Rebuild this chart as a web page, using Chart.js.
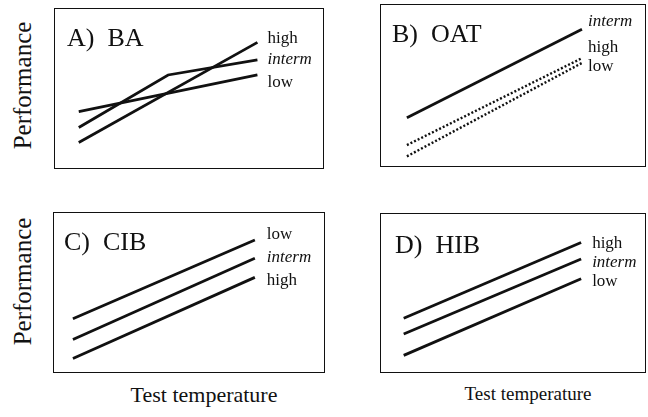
<!DOCTYPE html>
<html>
<head>
<meta charset="utf-8">
<script src="https://cdn.jsdelivr.net/npm/chart.js@4.4.0/dist/chart.umd.min.js"></script>
<style>
  body { margin: 0; background: #fff; }
  #page { position: relative; width: 648px; height: 417px; font-family: "Liberation Serif", "Times New Roman", serif; color: #111; }
  .box { position: absolute; border: 1px solid #111; }
  .box canvas { display: block; }
  .ylab { position: absolute; font-size: 25px; line-height: 29px; width: 130px; text-align: center; transform: rotate(-90deg); transform-origin: center; white-space: nowrap; }
  .xlab { position: absolute; white-space: nowrap; transform: translateX(-50%); }
</style>
</head>
<body>
<div id="page">
  <div class="box" style="left:54px;top:8px;"><canvas id="chartA" width="268" height="159"></canvas></div>
  <div class="box" style="left:380px;top:4px;"><canvas id="chartB" width="264" height="161"></canvas></div>
  <div class="box" style="left:53px;top:212px;"><canvas id="chartC" width="270" height="159"></canvas></div>
  <div class="box" style="left:380px;top:213px;"><canvas id="chartD" width="264" height="158"></canvas></div>
  <div class="ylab" style="left:-43px;top:71px;">Performance</div>
  <div class="ylab" style="left:-43px;top:267px;">Performance</div>
  <div class="xlab" style="left:204px;top:382px;font-size:22px;">Test temperature</div>
  <div class="xlab" style="left:528px;top:383px;font-size:19px;">Test temperature</div>
</div>
<script>
// test temperature (arbitrary units)
const temps = [0, 10];
const tempsBent = [0, 5, 10];

// A) BA
const baHigh = [1.6, 7.9];
const baInterm = [2.55, 5.85, 6.8];
const baLow = [3.55, 5.85];
// B) OAT
const oatInterm = [3.0, 8.5];
const oatHigh = [1.3, 6.7];
const oatLow = [0.6, 6.4];
// C) CIB
const cibLow = [3.35, 8.3];
const cibInterm = [2.05, 7.15];
const cibHigh = [0.85, 5.95];
// D) HIB
const hibHigh = [3.4, 8.2];
const hibInterm = [2.4, 7.15];
const hibLow = [1.05, 5.9];

const pts = (xs, ys) => xs.map((x, i) => ({ x: x, y: ys[i] }));

// draws panel title and the series names next to line ends
const panelText = {
  id: 'panelText',
  afterDraw(chart, args, opts) {
    const c = chart.ctx;
    const xs = chart.scales.x, ys = chart.scales.y;
    c.save();
    c.fillStyle = '#111';
    c.textBaseline = 'alphabetic';
    c.font = '26px "Liberation Serif", serif';
    c.fillText(opts.title, opts.titleX, opts.titleY);
    c.textBaseline = 'middle';
    chart.data.datasets.forEach(ds => {
      const last = ds.data[ds.data.length - 1];
      const px = xs.getPixelForValue(last.x) + opts.labelDx;
      const py = ys.getPixelForValue(last.y) + ds.labelDy;
      c.font = (ds.label === 'interm' ? 'italic ' : '') + '17px "Liberation Serif", serif';
      c.fillText(ds.label, px, py);
    });
    c.restore();
  }
};

function line(label, xs, ys, dy, dotted) {
  return {
    label: label,
    data: pts(xs, ys),
    borderColor: '#111',
    borderWidth: dotted ? 2.4 : 2.8,
    borderDash: dotted ? [2, 2] : [],
    pointRadius: 0,
    tension: 0,
    labelDy: dy
  };
}

function panel(id, datasets, xMin, xMax, title, titleX, titleY, labelDx) {
  return new Chart(document.getElementById(id), {
    type: 'line',
    data: { datasets: datasets },
    options: {
      responsive: false,
      animation: false,
      layout: { padding: 0 },
      plugins: {
        legend: { display: false },
        tooltip: { enabled: false },
        panelText: { title: title, titleX: titleX, titleY: titleY, labelDx: labelDx }
      },
      scales: {
        x: { type: 'linear', min: xMin, max: xMax, display: false },
        y: { min: 0, max: 10, display: false }
      }
    },
    plugins: [panelText]
  });
}

panel('chartA', [
  line('high', temps, baHigh, -4),
  line('interm', tempsBent, baInterm, 0),
  line('low', temps, baLow, 8)
], -1.33, 13.67, 'A)  BA', 12, 37, 10);

panel('chartB', [
  line('interm', temps, oatInterm, -8),
  line('high', temps, oatHigh, -11, true),
  line('low', temps, oatLow, 4, true)
], -1.48, 13.6, 'B)  OAT', 11, 37, 6);

panel('chartC', [
  line('low', temps, cibLow, -5),
  line('interm', temps, cibInterm, -1),
  line('high', temps, cibHigh, 3)
], -1.04, 13.8, 'C)  CIB', 10, 37, 12);

panel('chartD', [
  line('high', temps, hibHigh, 1),
  line('interm', temps, hibInterm, 4),
  line('low', temps, hibLow, 3)
], -1.28, 13.6, 'D)  HIB', 14, 39, 11);
</script>
</body>
</html>
